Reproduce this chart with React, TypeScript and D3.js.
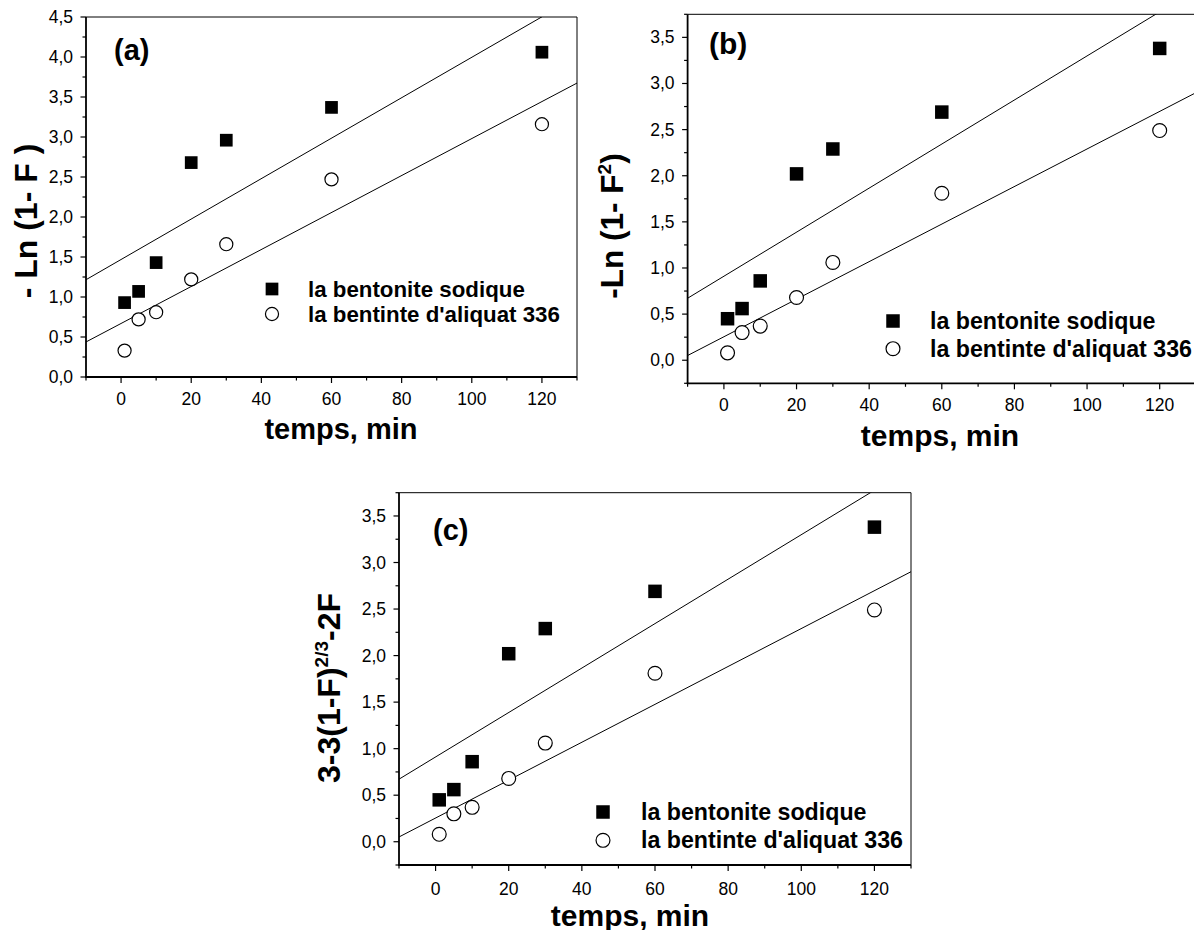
import React from "react";
import * as d3 from "d3";

// ---- data ----
const times = [1, 5, 10, 20, 30, 60, 120];
const sodiqueA = [0.93, 1.07, 1.43, 2.68, 2.96, 3.37, 4.06];
const aliquatA = [0.33, 0.72, 0.81, 1.22, 1.66, 2.47, 3.16];
const sodiqueB = [0.45, 0.56, 0.86, 2.02, 2.29, 2.69, 3.38];
const aliquatB = [0.08, 0.3, 0.37, 0.68, 1.06, 1.81, 2.49];
const sodiqueC = [0.45, 0.56, 0.86, 2.02, 2.29, 2.69, 3.38];
const aliquatC = [0.08, 0.3, 0.37, 0.68, 1.06, 1.81, 2.49];
const xTicks = [0, 20, 40, 60, 80, 100, 120];
const xMinor = [-10, 10, 30, 50, 70, 90, 110, 130];
const yTicksA = [0, 0.5, 1, 1.5, 2, 2.5, 3, 3.5, 4, 4.5];
const yTicksBC = [0, 0.5, 1, 1.5, 2, 2.5, 3, 3.5];
const legendLabels = ["la bentonite sodique", "la bentinte d'aliquat 336"];
const xTitle = "temps, min";

const FONT = "'Liberation Sans', Arial, Helvetica, sans-serif";

function fit(xs: number[], ys: number[]) {
  const mx = d3.mean(xs) as number;
  const my = d3.mean(ys) as number;
  let sxy = 0, sxx = 0;
  xs.forEach((v, i) => { sxy += (v - mx) * (ys[i] - my); sxx += (v - mx) * (v - mx); });
  const b = sxy / sxx;
  return { b, a: my - b * mx };
}

const fmt = (v: number) => d3.format(".1f")(v).replace(".", ",");

type PanelProps = {
  id: string;
  left: number; right: number; top: number; bottom: number;
  yDomain: [number, number];
  yTicks: number[];
  sod: number[]; ali: number[];
  label: string; labelX: number; labelY: number; labelSize: number;
  yTitle: React.ReactNode; yTitleX: number; yTitleY: number; yTitleSize: number;
  legX: number; legY: number; legGap: number; legTextX: number; legSize: number;
  xLabY: number; xTitleX: number; xTitleY: number; xTitleSize: number;
  sq: number;
};

function Panel(p: PanelProps) {
  const x = d3.scaleLinear().domain([-10, 130]).range([p.left, p.right]);
  const y = d3.scaleLinear().domain(p.yDomain).range([p.bottom, p.top]);
  const yMinor: number[] = [];
  for (let v = p.yDomain[0]; v <= p.yDomain[1] + 1e-9; v += 0.25) {
    if (!p.yTicks.some((t) => Math.abs(t - v) < 1e-9)) yMinor.push(v);
  }
  const line = d3.line<number[]>().x((d) => x(d[0])).y((d) => y(d[1]));
  const fits = [fit(times, p.sod), fit(times, p.ali)];
  const sq = p.sq;
  const r = sq / 2 + 0.2;
  return (
    <g>
      <defs>
        <clipPath id={p.id}>
          <rect x={p.left} y={p.top} width={p.right - p.left} height={p.bottom - p.top} />
        </clipPath>
      </defs>
      {/* frame */}
      <line x1={p.left} x2={p.right} y1={p.top} y2={p.top} stroke="#000" strokeWidth={1} />
      <line x1={p.right} x2={p.right} y1={p.top} y2={p.bottom} stroke="#000" strokeWidth={1} />
      <line x1={p.left - 0.9} x2={p.right} y1={p.bottom} y2={p.bottom} stroke="#000" strokeWidth={1.8} />
      <line x1={p.left} x2={p.left} y1={p.top} y2={p.bottom} stroke="#000" strokeWidth={1.8} />
      {/* x ticks */}
      {xTicks.map((t) => (
        <g key={"xt" + t}>
          <line x1={x(t)} x2={x(t)} y1={p.bottom} y2={p.bottom + 6} stroke="#000" strokeWidth={1.2} />
          <text x={x(t)} y={p.xLabY} textAnchor="middle" fontSize={17.5} fontFamily={FONT}>{t}</text>
        </g>
      ))}
      {xMinor.map((t) => (
        <line key={"xm" + t} x1={x(t)} x2={x(t)} y1={p.bottom} y2={p.bottom + 3.5} stroke="#000" strokeWidth={1.2} />
      ))}
      {/* y ticks */}
      {p.yTicks.map((t) => (
        <g key={"yt" + t}>
          <line x1={p.left - 5.5} x2={p.left} y1={y(t)} y2={y(t)} stroke="#000" strokeWidth={1.2} />
          <text x={p.left - 13} y={y(t) + 6} textAnchor="end" fontSize={17.5} fontFamily={FONT}>{fmt(t)}</text>
        </g>
      ))}
      {yMinor.map((t) => (
        <line key={"ym" + t} x1={p.left - 3.5} x2={p.left} y1={y(t)} y2={y(t)} stroke="#000" strokeWidth={1.2} />
      ))}
      {/* fit lines */}
      <g clipPath={`url(#${p.id})`}>
        {fits.map((f, i) => (
          <path key={"f" + i} d={line([[-10, f.a + f.b * -10], [130, f.a + f.b * 130]]) as string}
            fill="none" stroke="#000" strokeWidth={1} />
        ))}
      </g>
      {/* points */}
      {times.map((t, i) => (
        <rect key={"s" + i} x={x(t) - sq / 2} y={y(p.sod[i]) - sq / 2} width={sq} height={sq} fill="#000" />
      ))}
      {times.map((t, i) => (
        <circle key={"c" + i} cx={x(t)} cy={y(p.ali[i])} r={r} fill="#fff" stroke="#000" strokeWidth={1.2} />
      ))}
      {/* legend */}
      <rect x={p.legX - sq / 2} y={p.legY - sq / 2} width={sq} height={sq} fill="#000" />
      <circle cx={p.legX} cy={p.legY + p.legGap} r={r} fill="#fff" stroke="#000" strokeWidth={1.2} />
      {legendLabels.map((l, i) => (
        <text key={"l" + i} x={p.legTextX} y={p.legY + i * p.legGap + 8} fontSize={p.legSize} fontWeight="bold" fontFamily={FONT}>{l}</text>
      ))}
      {/* panel label */}
      <text x={p.labelX} y={p.labelY} fontSize={p.labelSize} fontWeight="bold" fontFamily={FONT}>{p.label}</text>
      {/* titles */}
      <text x={p.xTitleX} y={p.xTitleY} textAnchor="middle" fontSize={p.xTitleSize} fontWeight="bold" fontFamily={FONT}>{xTitle}</text>
      <text transform={`translate(${p.yTitleX},${p.yTitleY}) rotate(-90)`} textAnchor="middle" fontSize={p.yTitleSize} fontWeight="bold" fontFamily={FONT}>{p.yTitle}</text>
    </g>
  );
}

export default function App() {
  return (
    <svg width={1202} height={938} style={{ display: "block", margin: "-8px", background: "#fff" }}>
      <rect width={1202} height={938} fill="#fff" />
      <Panel id="ca" left={86} right={577} top={17} bottom={377} yDomain={[0, 4.5]} yTicks={yTicksA}
        sod={sodiqueA} ali={aliquatA} label="(a)" labelX={114} labelY={60} labelSize={29}
        yTitle={"- Ln (1- F )"} yTitleX={37} yTitleY={221} yTitleSize={32}
        legX={272} legY={289} legGap={25} legTextX={308} legSize={22.3}
        xLabY={405} xTitleX={341} xTitleY={439} xTitleSize={29} sq={12.7} />
      <Panel id="cb" left={687.6} right={1196} top={14.3} bottom={383.3} yDomain={[-0.25, 3.75]} yTicks={yTicksBC}
        sod={sodiqueB} ali={aliquatB} label="(b)" labelX={709} labelY={54} labelSize={30}
        yTitle={<>-Ln (1- F<tspan fontSize={19} dy={-12}>2</tspan><tspan dy={12}>)</tspan></>} yTitleX={623} yTitleY={226} yTitleSize={31.5}
        legX={893} legY={321} legGap={27.7} legTextX={930} legSize={23.2}
        xLabY={411} xTitleX={940} xTitleY={446} xTitleSize={30} sq={13.5} />
      <Panel id="cc" left={399} right={911} top={492.7} bottom={865} yDomain={[-0.25, 3.75]} yTicks={yTicksBC}
        sod={sodiqueC} ali={aliquatC} label="(c)" labelX={433} labelY={540} labelSize={29}
        yTitle={<>3-3(1-F)<tspan fontSize={19} dy={-12}>2/3</tspan><tspan dy={12}>-2F</tspan></>} yTitleX={340} yTitleY={688} yTitleSize={32}
        legX={603} legY={812} legGap={28.3} legTextX={641} legSize={23.2}
        xLabY={895} xTitleX={630} xTitleY={926} xTitleSize={30} sq={13.5} />
    </svg>
  );
}
